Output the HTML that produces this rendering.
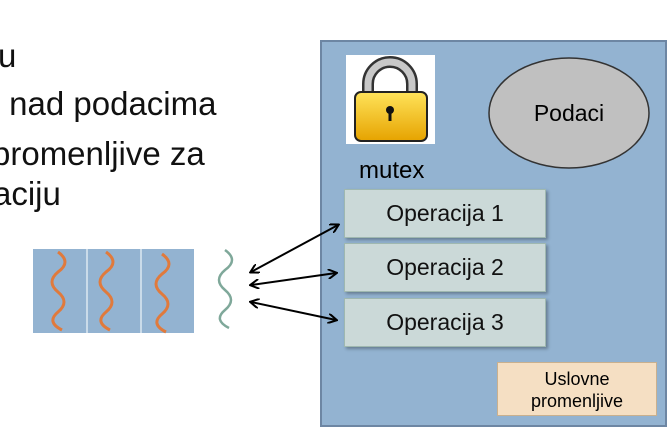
<!DOCTYPE html>
<html><head><style>
body{margin:0;width:672px;height:435px;background:#fff;position:relative;overflow:hidden;font-family:"Liberation Sans",sans-serif}
.t{position:absolute;font-size:33px;color:#111;white-space:nowrap}
.op{position:absolute;left:344px;width:200px;height:47px;background:#cbd9d8;border:1px solid #9fb8b0;box-shadow:2px 2px 3px rgba(0,0,0,.3);font-size:23px;text-align:center;line-height:47px;color:#111}
</style></head><body>
<div class="t" style="left:-2px;top:37px">u</div>
<div class="t" style="left:0px;top:85px">&nbsp;nad podacima</div>
<div class="t" style="left:-8px;top:135px">promenljive za</div>
<div class="t" style="left:-7px;top:175px">aciju</div>
<div style="position:absolute;left:320px;top:40px;width:343px;height:383px;background:#93b3d1;border:2px solid #6d86a3"></div>
<div style="position:absolute;left:346px;top:55px;width:89px;height:89px;background:#fff"></div>
<div style="position:absolute;left:359px;top:157px;font-size:24px">mutex</div>
<div class="op" style="top:189px">Operacija 1</div>
<div class="op" style="top:243px">Operacija 2</div>
<div class="op" style="top:298px">Operacija 3</div>
<div style="position:absolute;left:497px;top:362px;width:160px;height:54px;background:#f5dfc3;border:1px solid #c9b08e;font-size:18px;text-align:center;line-height:22px;padding-top:5px;box-sizing:border-box">Uslovne<br>promenljive</div>
<svg width="672" height="435" style="position:absolute;left:0;top:0">
<defs><linearGradient id="g" x1="0" y1="0" x2="0" y2="1"><stop offset="0" stop-color="#ffe35a"/><stop offset="1" stop-color="#e6a300"/></linearGradient>
<marker id="a" markerWidth="10" markerHeight="10" refX="8" refY="5" orient="auto-start-reverse" markerUnits="userSpaceOnUse"><path d="M0,0 L9,5 L0,10" fill="none" stroke="#000" stroke-width="2"/></marker></defs>
<path d="M368,100 V84 a22,22 0 0 1 44,0 V100" fill="none" stroke="#333" stroke-width="12"/>
<path d="M368,100 V84 a22,22 0 0 1 44,0 V100" fill="none" stroke="#c8c8c8" stroke-width="7"/>
<rect x="355" y="92" width="72" height="49" rx="6" fill="url(#g)" stroke="#222" stroke-width="2"/>
<circle cx="390" cy="110" r="4" fill="#111"/><rect x="388.5" y="110" width="3" height="11" fill="#111"/>
<ellipse cx="569" cy="113" rx="80" ry="55" fill="#c0c0c0" stroke="#333" stroke-width="1.5"/>
<text x="569" y="121" font-size="23" text-anchor="middle" font-family="Liberation Sans">Podaci</text>
<rect x="33" y="249" width="161" height="84" fill="#93b3d1"/>
<line x1="87" y1="249" x2="87" y2="333" stroke="#dde8f1" stroke-width="1.5"/>
<line x1="141" y1="249" x2="141" y2="333" stroke="#dde8f1" stroke-width="1.5"/>
<g fill="none" stroke="#e07a3c" stroke-width="3">
<path d="M58,252 q14,10 0,20 q-12,10 0,20 q12,10 0,20 q-12,10 4,18"/>
<path d="M106,252 q14,10 0,20 q-12,10 0,20 q12,10 0,20 q-12,10 4,18"/>
<path d="M162,254 q14,10 0,20 q-12,10 0,20 q12,10 0,20 q-12,10 4,18"/>
</g>
<path d="M225,250 q14,10 0,20 q-12,10 0,20 q12,10 0,20 q-12,10 4,18" fill="none" stroke="#7fa89a" stroke-width="2.5"/>
<g stroke="#000" stroke-width="2">
<line x1="251" y1="272" x2="338" y2="225" marker-start="url(#a)" marker-end="url(#a)"/>
<line x1="251" y1="285" x2="336" y2="273" marker-start="url(#a)" marker-end="url(#a)"/>
<line x1="251" y1="302" x2="336" y2="320" marker-start="url(#a)" marker-end="url(#a)"/>
</g>
</svg>
</body></html>
